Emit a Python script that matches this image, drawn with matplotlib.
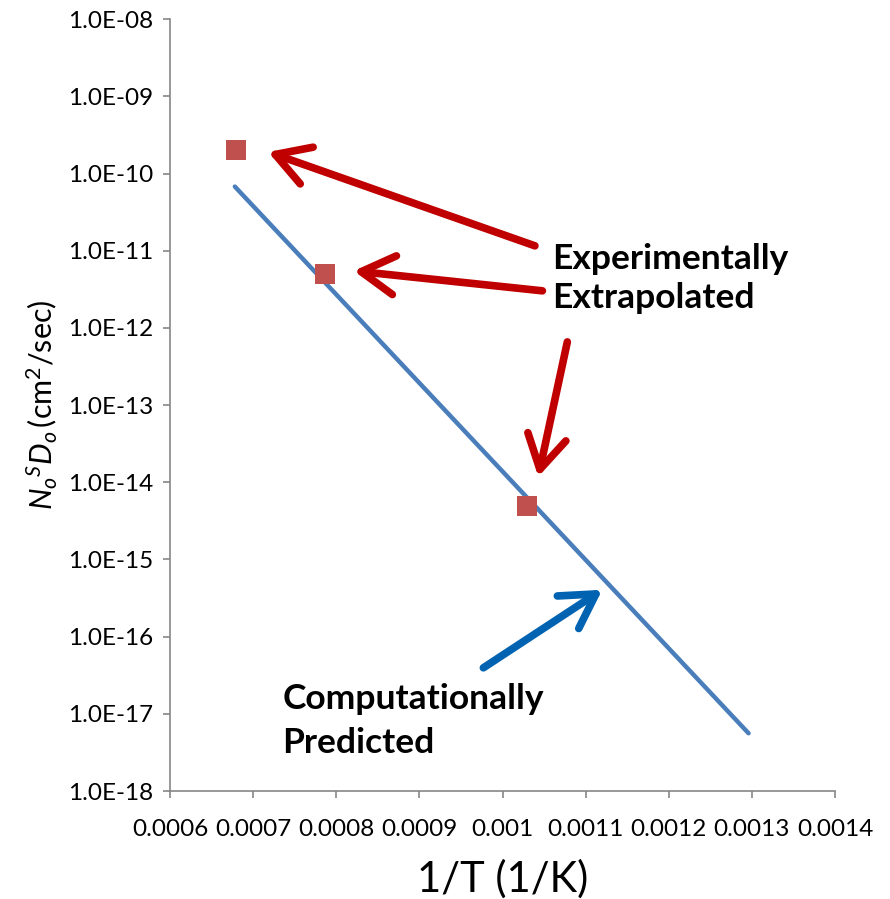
import matplotlib
matplotlib.use("Agg")
import matplotlib.pyplot as plt
import numpy as np

# ---- data ----
line_x = [0.000678, 0.001296]
line_y = [6.8e-11, 5.6e-18]
exp_x = [0.000679, 0.000786, 0.001029]
exp_y = [2.0e-10, 5.0e-12, 5.0e-15]
xticks = [0.0006, 0.0007, 0.0008, 0.0009, 0.001, 0.0011, 0.0012, 0.0013, 0.0014]
xtick_labels = ["0.0006", "0.0007", "0.0008", "0.0009", "0.001", "0.0011", "0.0012", "0.0013", "0.0014"]
yticks = [1e-18, 1e-17, 1e-16, 1e-15, 1e-14, 1e-13, 1e-12, 1e-11, 1e-10, 1e-9, 1e-8]
ytick_labels = ["1.0E-18", "1.0E-17", "1.0E-16", "1.0E-15", "1.0E-14", "1.0E-13",
                "1.0E-12", "1.0E-11", "1.0E-10", "1.0E-09", "1.0E-08"]

plt.rcParams['font.family'] = ['Lato', 'DejaVu Sans']
plt.rcParams['mathtext.fontset'] = 'custom'
plt.rcParams['mathtext.rm'] = 'Lato'
plt.rcParams['mathtext.it'] = 'Lato:italic'

fig = plt.figure(figsize=(8.9, 8.99), dpi=100)
ax = fig.add_axes([170/890, 1-791/899, 665/890, (791-19.3)/899])

ax.plot(line_x, line_y, color='#4A7EBB', lw=3.2, solid_capstyle='round', zorder=2)
ax.plot(exp_x, exp_y, 's', color='#C0504D', markersize=14.4, markeredgewidth=0, zorder=3)

ax.set_yscale('log')
ax.set_xlim(0.0006, 0.0014)
ax.set_ylim(1e-18, 1e-8)
ax.set_xticks(xticks)
ax.set_xticklabels(xtick_labels)
ax.set_yticks(yticks)
ax.set_yticklabels(ytick_labels)
ax.yaxis.set_minor_locator(matplotlib.ticker.NullLocator())

for s in ['top', 'right']:
    ax.spines[s].set_visible(False)
for s in ['left', 'bottom']:
    ax.spines[s].set_color('#868686')
    ax.spines[s].set_linewidth(1.2)
ax.tick_params(axis='both', direction='out', length=5, width=1.2, color='#868686',
               labelsize=17.5, labelcolor='black')
ax.tick_params(axis='x', pad=15)
ax.tick_params(axis='y', pad=7)

ax.set_xlabel('1/T (1/K)', fontsize=30, labelpad=14)
ax.set_ylabel(r'$N_o{}^{S}D_o\,\mathrm{(cm^2/sec)}$', fontsize=22, labelpad=6)

red = '#C00000'
blue = '#0063B1'
arrows = [
    ((0.001039, 1.16e-11), (0.000718, 1.91e-10), red),
    ((0.001048, 3.03e-12), (0.000821, 5.49e-12), red),
    ((0.001078, 6.6e-13), (0.001043, 1.18e-14), red),
    ((0.000977, 3.95e-17), (0.00112, 4.05e-16), blue),
]
for tail, head, c in arrows:
    ax.annotate('', xy=head, xytext=tail,
                arrowprops=dict(arrowstyle='->,head_length=1.2,head_width=0.7',
                                color=c, lw=5.5, mutation_scale=20,
                                shrinkA=0, shrinkB=0, capstyle='round',
                                joinstyle='round'))

tkw = dict(fontsize=25.5, fontweight='bold', ha='left', va='baseline')
ax.text(0.001060, 5.83e-12, 'Experimentally', **tkw)
ax.text(0.001060, 1.82e-12, 'Extrapolated', **tkw)
ax.text(0.000735, 1.16e-17, 'Computationally', **tkw)
ax.text(0.000735, 3.13e-18, 'Predicted', **tkw)

fig.savefig('out.png', dpi=100)
